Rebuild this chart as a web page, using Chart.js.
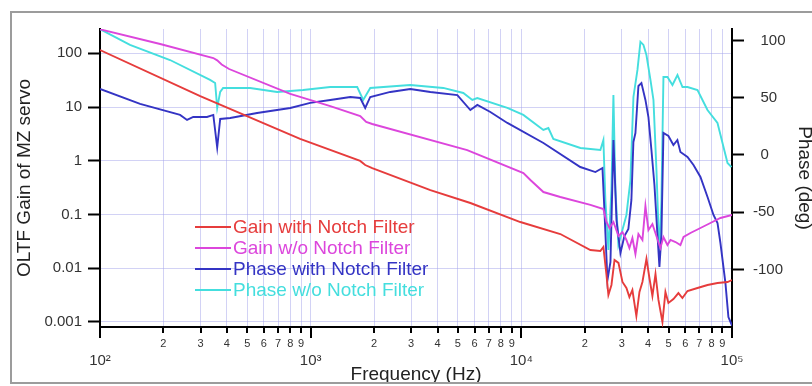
<!DOCTYPE html>
<html><head><meta charset="utf-8">
<script src="https://cdn.jsdelivr.net/npm/chart.js@4/dist/chart.umd.min.js"></script>
<style>html,body{margin:0;padding:0;background:#fff;overflow:hidden}#wrap{width:812px;height:386px}</style>
</head><body><div id="wrap"><canvas id="c" width="812" height="386"></canvas></div>
<script>
// ---- data (frequency in Hz; gain unitless; phase in degrees) ----
const gainWithFreq = [100, 299, 891, 1718, 1815, 1960, 3700, 5730, 9890, 15310, 21270, 23710, 24520, 25360, 25900, 26780, 27690, 28910, 30200, 31540, 32580, 33670, 35160, 36370, 37570, 39260, 40550, 41900, 43330, 44760, 46750, 48310, 49910, 52710, 55670, 58160, 61470, 68560, 76530, 85340, 95210, 100000];
const gainWithValues = [115, 16.0, 2.54, 0.99, 0.83, 0.73, 0.284, 0.163, 0.0721, 0.0431, 0.0217, 0.0208, 0.0247, 0.00744, 0.00316, 0.00485, 0.0142, 0.0125, 0.00551, 0.00426, 0.00289, 0.00391, 0.00128, 0.00359, 0.00551, 0.0148, 0.00654, 0.00302, 0.00777, 0.00255, 0.00099, 0.00359, 0.00224, 0.00265, 0.00343, 0.00277, 0.00374, 0.00426, 0.00485, 0.00528, 0.00551, 0.00600];

const gainWithoutFreq = [100, 193, 345, 360, 378, 410, 800, 1239, 1719, 1835, 1960, 5535, 10230, 11040, 12730, 15310, 21270, 24520, 25360, 26200, 27370, 28910, 30200, 31540, 32580, 33670, 34800, 35960, 37570, 38820, 40110, 41900, 43770, 45720, 47270, 49380, 51040, 53940, 56900, 58880, 63500, 70830, 79000, 88120, 100000];
const gainWithoutValues = [280, 149, 81.7, 74, 62, 51, 17.5, 10.4, 6.80, 5.26, 4.83, 1.58, 0.590, 0.437, 0.261, 0.211, 0.150, 0.126, 0.0722, 0.0558, 0.0722, 0.0396, 0.0470, 0.0334, 0.0237, 0.0363, 0.0183, 0.0431, 0.0334, 0.143, 0.0512, 0.0662, 0.0396, 0.0237, 0.0379, 0.0269, 0.0334, 0.0306, 0.0269, 0.0379, 0.0451, 0.0558, 0.0692, 0.0857, 0.0975];

const phaseWithFreq = [100, 155, 240, 259, 277, 322, 345, 360, 372, 415, 557, 800, 995, 1239, 1542, 1719, 1815, 1918, 2388, 2972, 3699, 4969, 5728, 6183, 7127, 8585, 12730, 19050, 22470, 24270, 24790, 25630, 26490, 27370, 28290, 29540, 30850, 32220, 33300, 34040, 34800, 35960, 37160, 38820, 40110, 41450, 42840, 44270, 45240, 46240, 47270, 49910, 52710, 55050, 56900, 61470, 65650, 70830, 76530, 81700, 85340, 88120, 93080, 96150, 100000];
const phaseWithValues = [57.7, 44.6, 35.0, 30.6, 33.2, 33.2, 35.0, 6.5, 31.5, 32.3, 36.7, 41.1, 45.5, 48.1, 50.7, 49.8, 41.1, 50.7, 55.1, 57.7, 55.1, 52.4, 39.3, 43.7, 37.6, 28.0, 10.5, -10.5, -14.9, -11.4, -48.1, -109.3, -93.5, 13.1, -56.8, -85.7, -70.8, -64.7, -39.3, 11.4, 19.2, 60.3, 62.9, 48.1, 33.2, 4.4, -26.2, -69.9, -97.9, -69.9, 19.2, 16.6, 8.7, 13.1, 2.6, -1.7, -8.7, -19.2, -36.7, -52.4, -59.4, -76.9, -111.9, -141.6, -149];

const phaseWithoutFreq = [100, 138.8, 215, 333, 352, 360, 372, 384, 516, 693, 921, 1238, 1663, 1776, 1918, 2970, 4262, 5303, 5853, 6180, 8582, 10220, 12720, 13440, 14190, 19070, 23730, 24520, 25060, 25900, 26770, 27360, 27970, 28890, 30190, 31540, 32950, 34050, 35580, 36760, 37990, 39250, 41010, 42380, 43790, 45240, 46240, 47270, 49390, 52160, 55100, 58200, 61480, 68580, 76490, 85330, 95200, 99450];
const phaseWithoutValues = [110, 96.2, 83.0, 65.6, 62.9, 41.1, 55.1, 58.6, 58.6, 55.1, 56.8, 59.4, 59.4, 48.1, 58.6, 61.2, 58.6, 54.2, 48.1, 49.8, 41.1, 35.0, 21.9, 23.6, 14.0, 6.1, 4.4, 13.1, -39.3, -83.0, -30.6, 52.4, -30.6, -78.7, -65.6, -52.4, -21.9, 50.7, 74.3, 98.8, 96.2, 87.4, 65.6, 48.1, -13.1, -87.4, -39.3, 68.2, 68.2, 61.2, 69.9, 59.4, 59.4, 56.8, 39.3, 28.0, -7.0, -10.5];

const seriesLabels = ['Gain with Notch Filter', 'Gain w/o Notch Filter', 'Phase with Notch Filter', 'Phase w/o Notch Filter'];
const leftTickValues = [0.001, 0.01, 0.1, 1, 10, 100];
const leftTickLabels = ['0.001', '0.01', '0.1', '1', '10', '100'];
const rightTickValues = [-100, -50, 0, 50, 100];
const xTickValues = [100,200,300,400,500,600,700,800,900,1000,2000,3000,4000,5000,6000,7000,8000,9000,10000,20000,30000,40000,50000,60000,70000,80000,90000,100000];

// ---- styling ----
const FONT = '"Liberation Sans", Arial, Helvetica, sans-serif';
Chart.defaults.font.family = FONT;
const GRID = 'rgba(165,165,235,0.5)';
const COLORS = ['#e63c3c', '#dc46dc', '#3434c4', '#44dede'];
const SUP = ['\u2070','\u00b9','\u00b2','\u00b3','\u2074','\u2075'];
const isMajor = v => Math.abs(Math.log10(v) - Math.round(Math.log10(v))) < 1e-9;
const pts = (f, v) => f.map((x, i) => ({x: x, y: v[i]}));

function mkDs(i, f, v, axis) {
  return {label: seriesLabels[i], data: pts(f, v), yAxisID: axis, borderColor: COLORS[i],
    backgroundColor: COLORS[i], borderWidth: 1.9, pointRadius: 0, tension: 0, fill: false};
}

const decor = {
  id: 'decor',
  afterDatasetsDraw(chart) {
    const ctx = chart.ctx;
    ctx.save();
    ctx.font = '19px ' + FONT;
    ctx.textBaseline = 'middle';
    ctx.textAlign = 'left';
    const ys = [227, 248, 269, 290];
    chart.data.datasets.forEach((ds, i) => {
      ctx.strokeStyle = ds.borderColor; ctx.lineWidth = 2;
      ctx.beginPath(); ctx.moveTo(195, ys[i]); ctx.lineTo(231, ys[i]); ctx.stroke();
      ctx.fillStyle = ds.borderColor;
      ctx.fillText(ds.label, 233, ys[i] + 1);
    });
    ctx.restore();
  },
  afterDraw(chart) {
    const ctx = chart.ctx, xs = chart.scales.x, area = chart.chartArea;
    ctx.save();
    ctx.strokeStyle = '#000'; ctx.lineWidth = 2;
    xTickValues.forEach(v => {
      const px = Math.round(xs.getPixelForValue(v));
      ctx.beginPath(); ctx.moveTo(px, area.bottom); ctx.lineTo(px, area.bottom + (isMajor(v) ? 11 : 6)); ctx.stroke();
    });
    ctx.fillStyle = '#222';
    ctx.font = '19px ' + FONT;
    ctx.textAlign = 'center'; ctx.textBaseline = 'alphabetic';
    const cy = (area.top + area.bottom) / 2;
    ctx.save(); ctx.translate(30, cy); ctx.rotate(-Math.PI / 2); ctx.fillText('OLTF Gain of MZ servo', 0, 0); ctx.restore();
    ctx.save(); ctx.translate(799, cy); ctx.rotate(Math.PI / 2); ctx.fillText('Phase (deg)', 0, 0); ctx.restore();
    ctx.fillText('Frequency (Hz)', (area.left + area.right) / 2, 380);
    ctx.strokeStyle = '#9c9c9c'; ctx.lineWidth = 2;
    ctx.beginPath(); ctx.moveTo(812, 12); ctx.lineTo(11, 12); ctx.lineTo(11, 383); ctx.lineTo(812, 383); ctx.stroke();
    ctx.restore();
  }
};

new Chart(document.getElementById('c'), {
  type: 'line',
  data: {datasets: [
    mkDs(0, gainWithFreq, gainWithValues, 'y'),
    mkDs(1, gainWithoutFreq, gainWithoutValues, 'y'),
    mkDs(2, phaseWithFreq, phaseWithValues, 'y1'),
    mkDs(3, phaseWithoutFreq, phaseWithoutValues, 'y1')
  ]},
  options: {
    responsive: false, animation: false, events: [],
    layout: {padding: {top: 29, left: 0, right: 0, bottom: 0}},
    plugins: {legend: {display: false}, tooltip: {enabled: false}},
    scales: {
      x: {
        type: 'logarithmic', position: 'bottom', min: 100, max: 100000,
        afterBuildTicks: s => { s.ticks = xTickValues.map(v => ({value: v})); },
        afterFit: s => { s.height = 59; },
        grid: {color: GRID, lineWidth: 1, drawTicks: false},
        border: {display: true, color: '#000', width: 2},
        ticks: {
          autoSkip: false, maxRotation: 0, minRotation: 0, padding: 10, color: '#333',
          font: c => (c.tick && isMajor(c.tick.value)) ? {size: 15, lineHeight: 1.05} : {size: 11, lineHeight: 1.2},
          callback: v => {
            if (isMajor(v)) return ['', '10' + SUP[Math.round(Math.log10(v))]];
            const e = Math.floor(Math.log10(v) + 1e-9);
            return String(Math.round(v / Math.pow(10, e)));
          }
        }
      },
      y: {
        type: 'logarithmic', position: 'left', min: 0.0008, max: 283.6,
        afterBuildTicks: s => { s.ticks = leftTickValues.map(v => ({value: v})); },
        afterFit: s => { s.width = 100; },
        grid: {color: GRID, lineWidth: 1, drawTicks: true, tickLength: 12, tickColor: '#000', tickWidth: 2},
        border: {display: true, color: '#000', width: 2},
        ticks: {padding: 6, color: '#333', font: {size: 15},
          callback: (v, i) => leftTickLabels[i]}
      },
      y1: {
        type: 'linear', position: 'right', min: -150.3, max: 110.1,
        afterBuildTicks: s => { s.ticks = rightTickValues.map(v => ({value: v})); },
        afterFit: s => { s.width = 80; },
        grid: {drawOnChartArea: false, drawTicks: true, tickLength: 12, tickColor: '#000', tickWidth: 2},
        border: {display: true, color: '#000', width: 2},
        ticks: {padding: 9, color: '#333', font: {size: 15},
          callback: v => (v >= 0 ? '\u2002' + v : String(v))}
      }
    }
  },
  plugins: [decor]
});
</script>
</body></html>
